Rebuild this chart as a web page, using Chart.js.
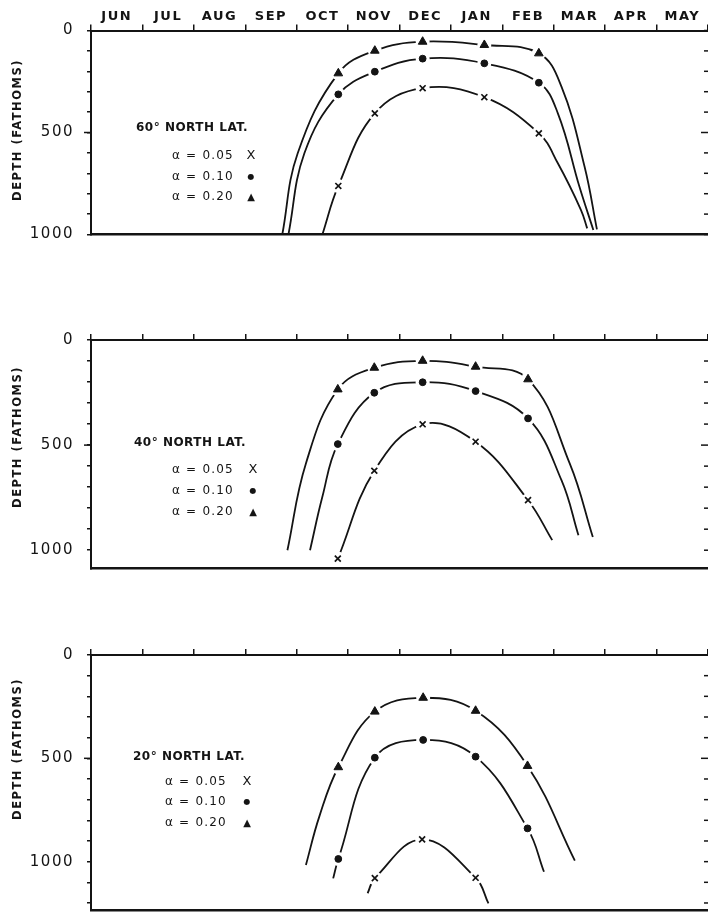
<!DOCTYPE html>
<html>
<head>
<meta charset="utf-8">
<script src="https://cdn.jsdelivr.net/npm/chart.js@4.4.1/dist/chart.umd.min.js"></script>
<style>
  html, body { margin: 0; padding: 0; background: #fff; overflow: hidden; }
  body { width: 708px; height: 912px; position: relative; }
  .panel { position: absolute; left: 0; }
  canvas { display: block; }
</style>
</head>
<body>
<div class="panel" style="top:0px"><canvas id="lat60" width="708" height="247"></canvas></div>
<div class="panel" style="top:310px"><canvas id="lat40" width="708" height="271"></canvas></div>
<div class="panel" style="top:625px"><canvas id="lat20" width="708" height="297"></canvas></div>
<script>
// x values are months counted from 1 June, depths are in fathoms
const MONTHS = ['JUN', 'JUL', 'AUG', 'SEP', 'OCT', 'NOV', 'DEC', 'JAN', 'FEB', 'MAR', 'APR', 'MAY'];
const MONTH_TICKS = [0, 0.5, 1, 1.5, 2, 2.5, 3, 3.5, 4, 4.5, 5, 5.5, 6, 6.5, 7, 7.5, 8, 8.5, 9, 9.5, 10, 10.5, 11, 11.5, 12];
const DEPTH_LABELS = [0, 500, 1000];
const DEPTH_TICKS_1000 = [0, 100, 200, 300, 400, 500, 600, 700, 800, 900, 1000];
const DEPTH_TICKS_1200 = [0, 100, 200, 300, 400, 500, 600, 700, 800, 900, 1000, 1100, 1200];
const ALPHAS = ['0.05', '0.10', '0.20'];

// 60° North
const LAT60_X = [4.81, 5.52, 6.45, 7.65, 8.71];
const LAT60_A05 = [762, 406, 283, 327, 504];
const LAT60_A10 = [313, 202, 138, 161, 256];
const LAT60_A20 = [210, 99, 55, 71, 112];
// unmarked points of each curve (ends and bends), [month, depth]
const LAT60_A05_LINE = [[4.50, 1000], [9.08, 651], [9.53, 880], [9.65, 970]];
const LAT60_A10_LINE = [[3.84, 1000], [4.15, 602], [9.08, 406], [9.50, 766], [9.77, 978]];
const LAT60_A20_LINE = [[3.72, 1000], [4.02, 602], [9.15, 275], [9.60, 668], [9.84, 975]];

// 40° North
const LAT40_X = [4.80, 5.51, 6.45, 7.48, 8.50];
const LAT40_A05 = [1040, 622, 401, 484, 762];
const LAT40_A10 = [495, 251, 201, 243, 373];
const LAT40_A20 = [235, 132, 99, 127, 187];
const LAT40_A05_LINE = [[8.97, 952]];
const LAT40_A10_LINE = [[4.26, 1000], [4.50, 746], [9.15, 667], [9.48, 929]];
const LAT40_A20_LINE = [[3.82, 1000], [4.18, 587], [9.31, 587], [9.76, 937]];

// 20° North
const LAT20_X = [4.81, 5.52, 6.46, 7.48, 8.49];
const LAT20_X05 = [5.52, 6.44, 7.48];
const LAT20_A05 = [1080, 892, 1078];
const LAT20_A10 = [987, 497, 411, 492, 839];
const LAT20_A20 = [543, 274, 207, 270, 537];
const LAT20_A05_LINE = [[5.38, 1153], [7.73, 1202]];
const LAT20_A10_LINE = [[4.71, 1081], [8.81, 1049]];
const LAT20_A20_LINE = [[4.18, 1016], [4.44, 782], [9.41, 995]];

const INK = '#141414';
const FONT = 'DejaVu Sans';
Chart.defaults.font.family = FONT;

const MARKS = [
    { style: 'crossRot', radius: 4.2, width: 1.7, glyph: 'X', glyphFont: '13px "DejaVu Sans"' },
    { style: 'circle', radius: 3.4, width: 1, glyph: '\u25CF', glyphFont: '8px "DejaVu Sans"' },
    { style: 'triangle', radius: 5, width: 1, glyph: '\u25B2', glyphFont: '10px "DejaVu Sans"' }
];

function points(xs, ys) {
    return xs.map((x, i) => ({ x: x, y: ys[i] }));
}

function curvePoints(xs, ys, extra) {
    return points(xs, ys)
        .concat(extra.map(p => ({ x: p[0], y: p[1] })))
        .sort((a, b) => a.x - b.x);
}

function buildDatasets(series) {
    const sets = [];
    series.forEach((s, i) => {
        const m = MARKS[i];
        // the curve
        sets.push({
            data: curvePoints(s.xs, s.ys, s.line),
            showLine: true, borderColor: INK, borderWidth: 1.8,
            pointRadius: 0, tension: 0.4, order: 2
        });
        // white gap round each marker, as in the drawing
        sets.push({
            data: points(s.xs, s.ys),
            pointStyle: 'circle', pointRadius: 7,
            pointBackgroundColor: '#ffffff', pointBorderColor: '#ffffff', pointBorderWidth: 0, order: 1
        });
        // the marker
        sets.push({
            data: points(s.xs, s.ys),
            pointStyle: m.style, pointRadius: m.radius,
            pointBackgroundColor: INK, pointBorderColor: INK,
            pointBorderWidth: m.width, order: 0
        });
    });
    return sets;
}

function monthLabel(v) {
    const half = Math.round(v * 2);
    return half % 2 === 1 ? MONTHS[(half - 1) / 2] : '';
}

function isBoundary(ctx) {
    return ctx.tick && Number.isInteger(ctx.tick.value) ? INK : 'rgba(0,0,0,0)';
}

// no extra room for labels that hang over the plot edges
function noOverhang(s) {
    s.paddingLeft = 0;
    s.paddingRight = 0;
    s.paddingTop = 0;
    s.paddingBottom = 0;
}

// right-hand inward ticks, y title and the little key in each panel
const annotate = {
    id: 'annotate',
    beforeUpdate(chart) { chart.ctx.letterSpacing = '1.5px'; },
    beforeDraw(chart) { chart.ctx.letterSpacing = '1.5px'; },
    afterDraw(chart, args, opts) {
        const { ctx, chartArea } = chart;
        const y = chart.scales.y;
        ctx.save();
        ctx.strokeStyle = INK;
        ctx.lineWidth = 1.5;
        y.ticks.forEach(t => {
            const py = y.getPixelForValue(t.value);
            const len = t.value === 500 ? 7 : 4;
            ctx.beginPath();
            ctx.moveTo(chartArea.right - len, py);
            ctx.lineTo(chartArea.right, py);
            ctx.stroke();
            if (t.value === 500) {
                ctx.beginPath();
                ctx.moveTo(chartArea.left - 7, py);
                ctx.lineTo(chartArea.left, py);
                ctx.stroke();
            }
        });

        ctx.fillStyle = INK;
        ctx.textBaseline = 'middle';

        // axis title
        ctx.save();
        ctx.translate(18, opts.yTitleAt);
        ctx.rotate(-Math.PI / 2);
        ctx.textAlign = 'center';
        ctx.font = 'bold 11.5px "' + FONT + '"';
        ctx.letterSpacing = '1.5px';
        ctx.fillText('DEPTH (FATHOMS)', 0, 0);
        ctx.restore();

        // key
        const k = opts.key;
        ctx.textAlign = 'left';
        ctx.font = 'bold 12px "' + FONT + '"';
        ctx.letterSpacing = '0.5px';
        ctx.fillText(opts.title, k.titleX, k.titleY);
        ctx.font = '12px "' + FONT + '"';
        ctx.letterSpacing = '1.2px';
        ALPHAS.forEach((a, i) => {
            ctx.fillText('\u03B1 = ' + a, k.textX, k.rowsY[i]);
        });
        ctx.textAlign = 'center';
        ctx.letterSpacing = '0px';
        MARKS.forEach((m, i) => {
            ctx.font = m.glyphFont;
            ctx.fillText(m.glyph, k.markX, k.rowsY[i]);
        });
        ctx.restore();
    }
};

function makeChart(id, p) {
    return new Chart(document.getElementById(id), {
        type: 'scatter',
        data: { datasets: buildDatasets(p.series) },
        options: {
            responsive: false,
            animation: false,
            events: [],
            layout: { autoPadding: false, padding: { left: 0, right: 0, top: 0, bottom: p.padBottom } },
            scales: {
                x: {
                    type: 'linear', position: 'top', min: 0, max: 12,
                    afterBuildTicks: s => { s.ticks = MONTH_TICKS.map(v => ({ value: v })); },
                    afterFit: s => { s.height = p.axisTop; noOverhang(s); },
                    ticks: {
                        autoSkip: false, maxRotation: 0, minRotation: 0, padding: 0, color: INK,
                        font: { family: FONT, size: 13, weight: 'bold' },
                        callback: v => p.monthLabels ? monthLabel(v) : ''
                    },
                    grid: { drawOnChartArea: false, tickLength: 6, lineWidth: 1.5, color: isBoundary, tickColor: isBoundary },
                    border: { color: INK, width: 2 }
                },
                xb: {
                    type: 'linear', position: 'bottom', min: 0, max: 12,
                    afterFit: s => { s.height = 0; noOverhang(s); },
                    ticks: { display: false },
                    grid: { display: false, drawTicks: false },
                    border: { color: INK, width: 2.5 }
                },
                y: {
                    type: 'linear', position: 'left', reverse: true, min: 0, max: p.maxDepth,
                    afterBuildTicks: s => { s.ticks = p.depthTicks.map(v => ({ value: v })); },
                    afterFit: s => { s.width = 91; noOverhang(s); },
                    ticks: {
                        autoSkip: false, padding: 13, color: INK,
                        font: { family: FONT, size: 15 },
                        callback: v => DEPTH_LABELS.includes(v) ? String(v) : ''
                    },
                    grid: { drawOnChartArea: false, tickLength: 4, lineWidth: 1.5, color: INK },
                    border: { color: INK, width: 2 }
                }
            },
            plugins: {
                legend: { display: false },
                tooltip: { enabled: false },
                annotate: { title: p.title, yTitleAt: p.yTitleAt, key: p.key }
            }
        },
        plugins: [annotate]
    });
}

makeChart('lat60', {
    title: '60\u00B0 NORTH LAT.', monthLabels: true,
    axisTop: 30.5, padBottom: 12.5, maxDepth: 1000, depthTicks: DEPTH_TICKS_1000,
    yTitleAt: 130,
    key: { titleX: 136, titleY: 128, textX: 172, markX: 251, rowsY: [156, 177, 197] },
    series: [
        { xs: LAT60_X, ys: LAT60_A05, line: LAT60_A05_LINE },
        { xs: LAT60_X, ys: LAT60_A10, line: LAT60_A10_LINE },
        { xs: LAT60_X, ys: LAT60_A20, line: LAT60_A20_LINE }
    ]
});

makeChart('lat40', {
    title: '40\u00B0 NORTH LAT.', monthLabels: false,
    axisTop: 30, padBottom: 12.5, maxDepth: 1087, depthTicks: DEPTH_TICKS_1000,
    yTitleAt: 127,
    key: { titleX: 134, titleY: 133, textX: 172, markX: 253, rowsY: [160, 181, 202] },
    series: [
        { xs: LAT40_X, ys: LAT40_A05, line: LAT40_A05_LINE },
        { xs: LAT40_X, ys: LAT40_A10, line: LAT40_A10_LINE },
        { xs: LAT40_X, ys: LAT40_A20, line: LAT40_A20_LINE }
    ]
});

makeChart('lat20', {
    title: '20\u00B0 NORTH LAT.', monthLabels: false,
    axisTop: 30, padBottom: 12, maxDepth: 1234, depthTicks: DEPTH_TICKS_1200,
    yTitleAt: 124,
    key: { titleX: 133, titleY: 132, textX: 165, markX: 247, rowsY: [157, 177, 198] },
    series: [
        { xs: LAT20_X05, ys: LAT20_A05, line: LAT20_A05_LINE },
        { xs: LAT20_X, ys: LAT20_A10, line: LAT20_A10_LINE },
        { xs: LAT20_X, ys: LAT20_A20, line: LAT20_A20_LINE }
    ]
});
</script>
</body>
</html>
